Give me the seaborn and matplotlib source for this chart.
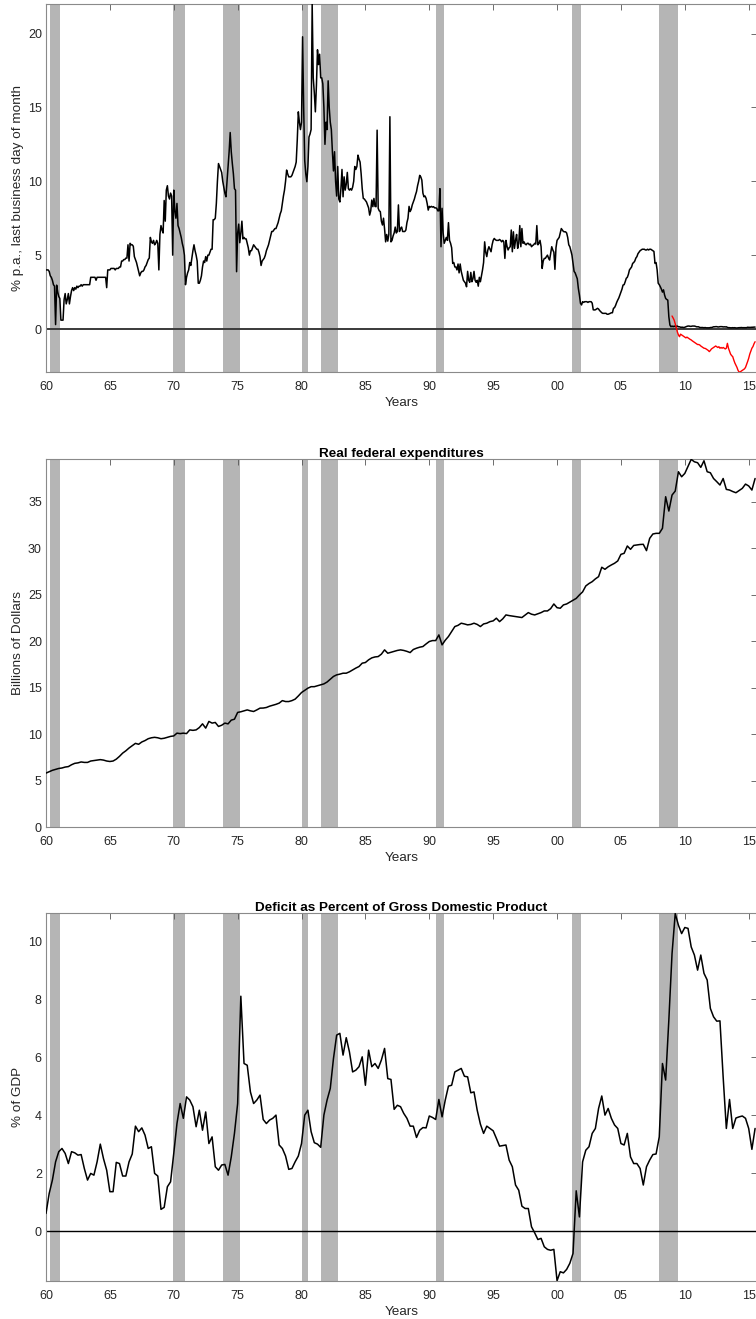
import numpy as np
import matplotlib
matplotlib.use("Agg")
import matplotlib.pyplot as plt
import seaborn as sns

sns.set_style("white")
plt.rcParams["font.family"] = ["Liberation Sans", "DejaVu Sans"]

# ---------------- data ----------------
# Federal funds rate, last business day of month, Jan 1960 - Jul 2015 (monthly)
fed_funds = [
    4.0, 4.0, 4.0, 3.9, 3.6, 3.5, 3.3, 3.0, 2.9, 0.3, 2.97, 2.5,          # 1960
    2.2, 2.07, 0.6, 0.6, 0.6, 2.0, 2.4, 1.7, 2.0, 2.4, 1.7, 2.2,          # 1961
    2.6, 2.8, 2.6, 2.8, 2.7, 2.9, 2.8, 2.9, 2.9, 3.0, 2.9, 3.0,           # 1962
    3.0, 3.0, 3.0, 3.0, 3.0, 3.0, 3.5, 3.5, 3.5, 3.5, 3.5, 3.3,           # 1963
    3.5, 3.5, 3.5, 3.5, 3.5, 3.5, 3.5, 3.5, 3.5, 2.8, 4.0, 4.0,           # 1964
    4.0, 4.1, 4.1, 4.1, 4.1, 4.0, 4.1, 4.1, 4.1, 4.2, 4.2, 4.6,           # 1965
    4.6, 4.7, 4.7, 4.8, 4.8, 5.7, 4.6, 5.8, 5.7, 5.7, 5.6, 4.9,           # 1966
    4.7, 4.5, 4.2, 3.9, 3.6, 3.8, 3.9, 3.9, 4.0, 4.2, 4.3, 4.5,           # 1967
    4.7, 4.8, 6.2, 5.9, 5.8, 6.0, 5.7, 5.8, 6.0, 5.8, 4.0, 6.4,           # 1968
    7.0, 6.7, 6.5, 8.7, 7.3, 9.4, 9.7, 9.0, 8.8, 9.2, 9.0, 5.0,           # 1969
    9.4, 8.0, 7.5, 8.5, 7.0, 6.8, 6.5, 6.2, 5.8, 5.5, 5.0, 3.0,           # 1970
    3.5, 3.8, 4.0, 4.5, 4.3, 4.8, 5.3, 5.7, 5.3, 5.0, 4.6, 3.1,           # 1971
    3.1, 3.3, 3.6, 4.2, 4.6, 4.5, 4.9, 4.6, 5.0, 5.0, 5.2, 5.4,           # 1972
    5.4, 7.4, 7.4, 7.5, 8.5, 10.0, 11.2, 11.0, 10.8, 10.6, 10.0, 9.6,     # 1973
    9.2, 8.95, 10.0, 11.0, 12.0, 13.3, 12.0, 11.2, 10.5, 9.5, 9.4, 3.88,  # 1974
    6.5, 7.1, 5.84, 6.5, 7.3, 6.1, 6.2, 6.1, 6.1, 5.8, 5.5, 5.0,          # 1975
    5.3, 5.3, 5.5, 5.7, 5.6, 5.5, 5.4, 5.4, 5.2, 4.9, 4.3, 4.6,           # 1976
    4.7, 4.8, 5.0, 5.3, 5.5, 5.7, 6.0, 6.3, 6.6, 6.6, 6.7, 6.8,           # 1977
    6.8, 7.0, 7.2, 7.5, 7.8, 8.0, 8.5, 9.0, 9.4, 10.0, 10.76, 10.5,       # 1978
    10.3, 10.3, 10.3, 10.4, 10.6, 10.8, 11.0, 11.3, 12.8, 14.7, 14.0, 13.5,  # 1979
    14.0, 19.78, 15.0, 11.4, 10.5, 9.97, 11.0, 13.0, 13.2, 13.5, 22.0, 17.0, # 1980
    16.0, 14.7, 16.5, 18.9, 17.9, 18.6, 17.0, 17.0, 16.6, 15.0, 12.5, 14.0,  # 1981
    13.5, 16.8, 15.0, 14.0, 13.5, 12.0, 10.7, 12.0, 10.0, 9.0, 11.0, 8.8,    # 1982
    8.6, 9.5, 10.8, 8.95, 10.3, 9.4, 9.8, 10.6, 9.5, 9.4, 9.5, 9.4,          # 1983
    9.6, 10.0, 11.0, 10.8, 11.0, 11.77, 11.5, 11.3, 10.5, 9.5, 8.84, 8.8,    # 1984
    8.7, 8.6, 8.4, 8.2, 7.71, 8.0, 8.73, 8.28, 8.84, 8.3, 8.28, 13.46,       # 1985
    8.17, 8.0, 7.95, 7.3, 7.04, 7.5, 6.77, 5.9, 6.4, 5.95, 6.4, 14.37,       # 1986
    5.9, 6.0, 6.3, 6.5, 6.9, 6.5, 6.6, 8.4, 6.6, 6.8, 6.9, 6.6,              # 1987
    6.6, 6.6, 6.7, 7.2, 7.5, 8.3, 7.95, 8.1, 8.4, 8.6, 8.8, 9.07,            # 1988
    9.3, 9.7, 10.0, 10.4, 10.3, 10.08, 9.2, 8.95, 9.0, 8.84, 8.5, 8.05,      # 1989
    8.3, 8.25, 8.3, 8.25, 8.28, 8.2, 8.2, 8.17, 8.0, 8.0, 9.5, 5.57,         # 1990
    8.17, 6.5, 5.8, 6.0, 6.2, 6.0, 7.2, 6.0, 5.8, 5.5, 4.44, 4.5,            # 1991
    4.2, 4.2, 4.0, 4.4, 3.8, 4.4, 3.9, 3.6, 3.3, 3.2, 3.1, 2.86,             # 1992
    3.9, 3.3, 3.16, 3.83, 3.2, 3.4, 3.9, 3.3, 3.16, 3.3, 2.9, 3.5,           # 1993
    3.2, 3.6, 4.0, 4.5, 5.9, 5.2, 4.9, 5.35, 5.57, 5.4, 5.23, 5.7,           # 1994
    6.0, 6.13, 6.05, 6.0, 6.0, 6.0, 6.06, 6.0, 5.9, 6.0, 5.9, 4.78,          # 1995
    6.0, 5.6, 5.35, 5.5, 5.57, 6.7, 5.23, 6.58, 5.46, 6.0, 6.4, 5.46,        # 1996
    5.8, 7.0, 5.57, 6.8, 5.8, 5.9, 5.75, 5.7, 5.8, 5.8, 5.7, 5.75,           # 1997
    5.57, 5.65, 5.7, 5.8, 5.75, 7.0, 5.7, 5.8, 6.0, 5.57, 4.1, 4.6,          # 1998
    4.78, 4.78, 4.9, 5.0, 4.8, 4.67, 5.1, 5.57, 5.35, 5.2, 4.04, 5.5,        # 1999
    6.0, 6.1, 6.2, 6.5, 6.8, 6.7, 6.6, 6.58, 6.58, 6.5, 6.2, 5.7,            # 2000
    5.57, 5.3, 5.0, 4.44, 3.9, 3.8, 3.6, 3.4, 2.75, 2.3, 1.74, 1.63,         # 2001
    1.85, 1.8, 1.85, 1.85, 1.85, 1.8, 1.85, 1.85, 1.85, 1.75, 1.3, 1.29,     # 2002
    1.3, 1.35, 1.4, 1.35, 1.25, 1.18, 1.1, 1.06, 1.06, 1.06, 1.06, 1.0,      # 2003
    1.0, 1.03, 1.06, 1.1, 1.1, 1.4, 1.45, 1.6, 1.8, 1.96, 2.1, 2.3,          # 2004
    2.5, 2.7, 2.98, 3.0, 3.2, 3.43, 3.5, 3.7, 4.0, 4.1, 4.2, 4.44,           # 2005
    4.5, 4.6, 4.8, 4.9, 5.1, 5.2, 5.3, 5.35, 5.4, 5.4, 5.4, 5.35,            # 2006
    5.35, 5.4, 5.35, 5.4, 5.4, 5.35, 5.3, 5.25, 4.44, 4.5, 4.0, 3.1,         # 2007
    3.0, 2.86, 2.7, 2.5, 2.65, 2.3, 2.07, 2.0, 1.96, 0.83, 0.27, 0.15,       # 2008
    0.2, 0.15, 0.2, 0.15, 0.18, 0.2, 0.15, 0.15, 0.12, 0.12, 0.12, 0.1,      # 2009
    0.12, 0.15, 0.18, 0.2, 0.2, 0.18, 0.18, 0.2, 0.2, 0.2, 0.18, 0.15,       # 2010
    0.15, 0.15, 0.1, 0.1, 0.1, 0.1, 0.08, 0.1, 0.08, 0.08, 0.08, 0.08,       # 2011
    0.1, 0.1, 0.12, 0.15, 0.15, 0.16, 0.16, 0.14, 0.14, 0.16, 0.16, 0.16,    # 2012
    0.14, 0.15, 0.14, 0.15, 0.11, 0.09, 0.09, 0.08, 0.08, 0.09, 0.08, 0.09,  # 2013
    0.07, 0.07, 0.08, 0.09, 0.09, 0.1, 0.09, 0.09, 0.09, 0.09, 0.09, 0.12,   # 2014
    0.11, 0.11, 0.11, 0.12, 0.12, 0.13, 0.13,                                # 2015 (Jan-Jul)
]

# Shadow rate, Jan 2009 - Jul 2015 (monthly)
shadow_rate = [
    0.88, 0.75, 0.6, 0.35, 0.1, -0.2, -0.4, -0.52, -0.35, -0.4, -0.45, -0.5,
    -0.55, -0.6, -0.55, -0.6, -0.65, -0.7, -0.74, -0.8, -0.85, -0.9, -0.95, -1.0,
    -1.05, -1.05, -1.08, -1.15, -1.2, -1.25, -1.3, -1.31, -1.35, -1.4, -1.45, -1.53,
    -1.45, -1.35, -1.3, -1.25, -1.2, -1.15, -1.2, -1.25, -1.2, -1.3, -1.25, -1.3,
    -1.25, -1.3, -1.35, -1.3, -0.97, -1.3, -1.5, -1.7, -1.8, -1.87, -2.1, -2.3,
    -2.45, -2.6, -2.8, -2.91, -2.9, -2.85, -2.8, -2.75, -2.7, -2.6, -2.4, -2.2,
    -1.98, -1.7, -1.5, -1.3, -1.19, -1.0, -0.86,
]

# Real federal expenditures, 1960Q1 - 2015Q3 (quarterly)
real_expenditures = [
    5.8, 5.95, 6.1, 6.2,  6.3, 6.35, 6.45, 6.5,  6.7, 6.85, 6.9, 7.0,
    6.95, 6.95, 7.1, 7.15,  7.2, 7.25, 7.2, 7.1,  7.05, 7.1, 7.3, 7.6,
    7.95, 8.2, 8.5, 8.75,  9.0, 8.9, 9.15, 9.3,  9.5, 9.6, 9.65, 9.6,
    9.5, 9.55, 9.65, 9.75,  9.8, 10.1, 10.05, 10.1,  10.05, 10.45, 10.4, 10.45,
    10.7, 11.1, 10.64, 11.36,  11.18, 11.25, 10.82, 10.95,  11.18, 11.1, 11.5, 11.6,
    12.33, 12.4, 12.5, 12.6,  12.5, 12.43, 12.6, 12.79,  12.8, 12.86, 13.0, 13.1,
    13.2, 13.33, 13.6, 13.5,  13.5, 13.6, 13.76, 14.1,  14.47, 14.7, 14.94, 15.1,
    15.1, 15.2, 15.3, 15.4,  15.6, 15.9, 16.2, 16.37,  16.45, 16.55, 16.55, 16.7,
    16.9, 17.1, 17.27, 17.63,  17.7, 17.99, 18.2, 18.3,  18.34, 18.6, 19.06, 18.7,
    18.8, 18.9, 19.0, 19.06,  19.0, 18.9, 18.77, 19.1,  19.24, 19.35, 19.42, 19.7,
    19.96, 20.06, 20.06, 20.67,  19.6, 20.1, 20.5, 21.03,  21.57, 21.7, 21.93, 21.85,
    21.75, 21.8, 21.93, 21.8,  21.57, 21.85, 21.93, 22.1,  22.18, 22.47, 22.1, 22.4,
    22.82, 22.75, 22.7, 22.64,  22.6, 22.54, 22.8, 23.07,  22.9, 22.82, 22.95, 23.07,
    23.25, 23.25, 23.5, 24.0,  23.6, 23.54, 23.9, 24.0,  24.2, 24.4, 24.6, 24.97,
    25.3, 25.94, 26.2, 26.4,  26.7, 26.94, 27.95, 27.73,  28.0, 28.2, 28.38, 28.63,
    29.34, 29.45, 30.24, 29.88,  30.3, 30.35, 30.4, 30.42,  29.74, 31.06, 31.53, 31.6,
    31.6, 32.14, 35.54, 34.0,  35.72, 36.15, 38.23, 37.69,  38.05, 38.8, 39.56, 39.3,
    39.2, 38.7, 39.41, 38.23,  38.12, 37.5, 37.16, 36.8,  37.5, 36.33, 36.26, 36.1,
    35.97, 36.2, 36.44, 36.9,  36.7, 36.26, 37.5,
]

# Deficit as percent of GDP, 1960Q1 - 2015Q3 (quarterly)
deficit_pct_gdp = [
    0.61, 1.3, 1.76, 2.39,  2.74, 2.85, 2.68, 2.33,  2.74, 2.7, 2.62, 2.64,
    2.16, 1.76, 1.99, 1.93,  2.39, 3.0, 2.5, 2.1,  1.36, 1.36, 2.37, 2.33,
    1.9, 1.9, 2.39, 2.66,  3.62, 3.43, 3.56, 3.31,  2.85, 2.91, 1.99, 1.9,
    0.75, 0.82, 1.53, 1.7,  2.68, 3.71, 4.4, 3.89,  4.63, 4.52, 4.29, 3.6,
    4.17, 3.48, 4.11, 3.02,  3.25, 2.22, 2.1, 2.28,  2.3, 1.93, 2.56, 3.37,
    4.4, 8.1, 5.78, 5.72,  4.8, 4.4, 4.52, 4.69,  3.85, 3.71, 3.83, 3.89,
    4.0, 2.97, 2.85, 2.59,  2.13, 2.16, 2.39, 2.59,  3.02, 4.0, 4.17, 3.43,
    3.05, 3.0, 2.89, 4.0,  4.52, 4.92, 5.95, 6.76,  6.82, 6.07, 6.67, 6.18,
    5.49, 5.55, 5.67, 6.01,  5.03, 6.24, 5.67, 5.78,  5.61, 5.9, 6.3, 5.26,
    5.23, 4.2, 4.34, 4.29,  4.06, 3.89, 3.62, 3.62,  3.23, 3.48, 3.57, 3.56,
    3.97, 3.92, 3.85, 4.54,  3.94, 4.52, 5.0, 5.03,  5.49, 5.55, 5.61, 5.34,
    5.32, 4.77, 4.8, 4.17,  3.69, 3.37, 3.62, 3.54,  3.46, 3.2, 2.93, 2.95,
    2.97, 2.45, 2.22, 1.59,  1.41, 0.86, 0.78, 0.78,  0.15, -0.06, -0.29, -0.25,
    -0.54, -0.63, -0.66, -0.63,  -1.71, -1.4, -1.44, -1.32,  -1.11, -0.77, 1.39, 0.49,
    2.39, 2.79, 2.91, 3.37,  3.54, 4.23, 4.66, 4.0,  4.23, 3.89, 3.66, 3.54,
    3.02, 2.97, 3.37, 2.56,  2.33, 2.33, 2.16, 1.59,  2.22, 2.45, 2.64, 2.66,
    3.25, 5.78, 5.21, 7.28,  9.57, 10.95, 10.55, 10.26,  10.47, 10.44, 9.8, 9.52,
    9.0, 9.52, 8.89, 8.66,  7.68, 7.39, 7.24, 7.25,  5.32, 3.54, 4.54, 3.54,
    3.9, 3.94, 3.97, 3.89,  3.54, 2.82, 3.54,
]

# NBER recessions (start, end) in decimal years
recession_start = [1960.30, 1969.95, 1973.87, 1980.00, 1981.52, 1990.52, 2001.20, 2007.95]
recession_end = [1961.10, 1970.85, 1975.15, 1980.52, 1982.85, 1991.18, 2001.85, 2009.45]

year_ticks = [1960, 1965, 1970, 1975, 1980, 1985, 1990, 1995, 2000, 2005, 2010, 2015]
year_labels = ["60", "65", "70", "75", "80", "85", "90", "95", "00", "05", "10", "15"]

# time axes
t_month = 1960 + np.arange(len(fed_funds)) / 12.0
t_shadow = 2009 + np.arange(len(shadow_rate)) / 12.0
t_quarter_exp = 1960 + np.arange(len(real_expenditures)) / 4.0
t_quarter_def = 1960 + np.arange(len(deficit_pct_gdp)) / 4.0

# ---------------- figure ----------------
W, H = 756, 1319
fig = plt.figure(figsize=(W / 100, H / 100), dpi=100)
fig.patch.set_facecolor("white")

TXT = "#262626"
SPINE = "#8a8a8a"


def add_axes(top, bottom, left=46, right=757):
    return fig.add_axes([left / W, 1 - bottom / H, (right - left) / W, (bottom - top) / H])


def style(ax, ylim, yticks, ylabel, title=None):
    ax.set_xlim(1960, 2015.65)
    ax.set_ylim(*ylim)
    ax.set_xticks(year_ticks)
    ax.set_xticklabels(year_labels)
    ax.set_yticks(yticks)
    ax.set_yticklabels([str(v) for v in yticks])
    ax.tick_params(axis="both", direction="in", length=4, width=0.6, color="#555555",
                   labelsize=9, labelcolor=TXT, top=True, right=True,
                   labeltop=False, labelright=False)
    ax.tick_params(axis="x", pad=6.5)
    ax.tick_params(axis="y", pad=3)
    for s in ax.spines.values():
        s.set_visible(True)
        s.set_color(SPINE)
        s.set_linewidth(0.8)
    ax.set_xlabel("Years", fontsize=9.7, color=TXT, labelpad=3)
    ax.set_ylabel(ylabel, fontsize=9.7, color=TXT)
    ax.yaxis.set_label_coords(-0.031, 0.5)
    if title:
        ax.set_title(title, fontsize=9.7, fontweight="bold", color="black", pad=1.5)
    ax.grid(False)


def recessions(ax):
    for s, e in zip(recession_start, recession_end):
        ax.axvspan(s, e, color="#b5b5b5", lw=0, zorder=0)


# Panel 1: interest rates
ax1 = add_axes(4, 372)
recessions(ax1)
ax1.axhline(0, color="#3a3a3a", lw=1.4, zorder=1)
sns.lineplot(x=t_month, y=fed_funds, ax=ax1, color="black", linewidth=1.1,
             estimator=None, zorder=3)
sns.lineplot(x=t_shadow, y=shadow_rate, ax=ax1, color="#ff0000", linewidth=1.0,
             estimator=None, zorder=3)
style(ax1, (-2.91, 22.0), [0, 5, 10, 15, 20], "% p.a., last business day of month")

# Panel 2: real federal expenditures
ax2 = add_axes(459, 827)
recessions(ax2)
sns.lineplot(x=t_quarter_exp, y=real_expenditures, ax=ax2, color="black",
             linewidth=1.1, estimator=None, zorder=3)
style(ax2, (0, 39.6), [0, 5, 10, 15, 20, 25, 30, 35], "Billions of Dollars",
      "Real federal expenditures")

# Panel 3: deficit as percent of GDP
ax3 = add_axes(913, 1281)
recessions(ax3)
ax3.axhline(0, color="black", lw=1.0, zorder=1)
sns.lineplot(x=t_quarter_def, y=deficit_pct_gdp, ax=ax3, color="black",
             linewidth=1.1, estimator=None, zorder=3)
style(ax3, (-1.72, 10.97), [0, 2, 4, 6, 8, 10], "% of GDP",
      "Deficit as Percent of Gross Domestic Product")

fig.savefig("out.png", dpi=100, facecolor="white")
